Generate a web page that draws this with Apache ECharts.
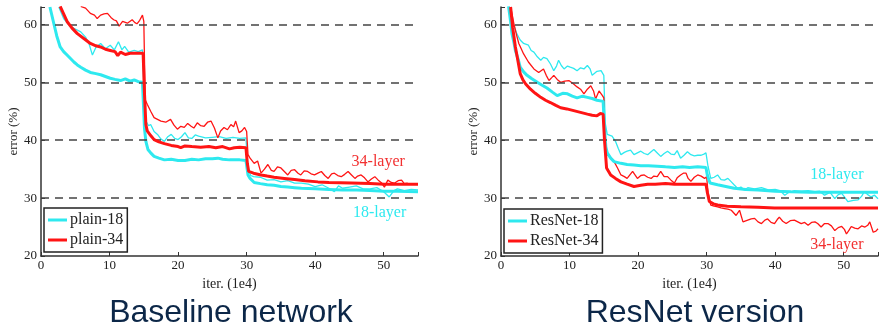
<!DOCTYPE html>
<html><head><meta charset="utf-8">
<script src="https://cdn.jsdelivr.net/npm/echarts@6/dist/echarts.min.js"></script>
<style>html,body{margin:0;padding:0;background:#fff}#c{width:884px;height:330px}</style>
</head><body><div id="c"></div>
<script>
// ---- data ----
const yTicks = [20, 30, 40, 50, 60];
const xTicks = [0, 10, 20, 30, 40, 50];
const gridLevels = [30, 40, 50, 60];
const panelTitles = ['Baseline network', 'ResNet version'];
const legendNames = [['plain-18', 'plain-34'], ['ResNet-18', 'ResNet-34']];
const layerLabels = ['18-layer', '34-layer'];

const plain18Val = [[1.3,63],[1.8,60.5],[2.3,58],[2.8,56.1],[3.3,55.3],[3.8,54.7],[4.3,54.1],[4.8,53.5],[5.3,53],[5.8,52.6],[6.5,52.1],[7.2,51.7],[8,51.5],[8.7,51.3],[9.4,51],[10.1,50.7],[10.8,50.5],[11.6,50.3],[12.3,50.6],[13,50.2],[13.6,50.4],[14.2,50.1],[14.8,50],[15.1,42],[15.3,39.8],[15.6,38.4],[16,37.8],[16.5,37.2],[17.2,36.9],[18,36.6],[19,36.7],[20,36.5],[21,36.5],[22,36.7],[23,36.6],[24,36.8],[25,36.8],[25.8,36.9],[26.5,36.7],[27.5,36.6],[28.2,36.6],[29,36.6],[29.9,36.5],[30.2,34],[30.5,33.4],[31.1,32.7],[32,32.5],[33,32.3],[34,32.2],[35,32],[36,31.9],[37,31.8],[38,31.7],[40,31.6],[42,31.5],[44,31.4],[46,31.4],[48,31.3],[50,31.2],[52,31.2],[55,31.1]];
const plain18Train = [[2.6,63],[3.3,61],[4.3,59.6],[5,59.2],[5.8,58.7],[6.5,57.8],[7,56.7],[7.5,54.7],[8,56],[8.7,56.7],[9.4,55.8],[10.1,56.4],[10.7,55.6],[11.3,57],[11.8,55.6],[12.2,56.2],[12.8,55.2],[13.6,55.5],[14.2,55.3],[14.8,55.6],[15.1,46],[15.3,43.3],[15.7,42.5],[16,42.7],[16.5,41.5],[17,41],[17.5,40.2],[18,39.8],[18.5,40.6],[19,41],[19.5,40.3],[20,40.1],[20.5,40.6],[21,41.3],[21.5,40.4],[22,40.3],[22.5,40.9],[23,40.7],[24,40.4],[25,40.5],[26,40.6],[27,40.3],[28,40.5],[29,40.3],[29.9,40.4],[30.2,35],[30.6,33.9],[31,33.7],[32,33.6],[33,33.1],[34,33.2],[35,32.8],[36,33],[37,32.6],[38,32.6],[39,32.4],[40,32],[41,32.3],[42,31.7],[42.8,31.1],[43.4,32.1],[44,31.7],[45,31.9],[46,32.1],[47,31.6],[48,31.6],[49,31.8],[50,31.1],[50.8,30.2],[51.5,31.3],[52,31.6],[53,31.3],[54,31.5],[55,31.4]];
const plain34Val = [[2.8,63.1],[3.3,61.8],[3.8,60.5],[4.5,59.4],[5.3,58.4],[6.2,57.6],[7.2,56.7],[8,56.3],[8.7,56.1],[9.4,55.7],[10.1,55.5],[10.8,55.3],[11.2,54.6],[11.6,55.2],[12.3,54.8],[13,55],[13.6,55],[14.3,55],[14.9,55],[15.1,48],[15.3,42.7],[15.5,41.6],[16,40.8],[16.5,40.1],[17.2,39.7],[18,39.4],[19,39.1],[20,38.9],[20.4,38.7],[21,39],[22,38.9],[23.3,38.8],[24.5,38.9],[25.5,38.7],[26.5,38.9],[27.5,38.5],[28.2,38.7],[29,38.8],[29.9,38.7],[30.1,36],[30.3,34.6],[31,34.3],[32.1,34],[33,33.8],[34,33.6],[35.5,33.4],[37,33.2],[38.5,33],[40.4,32.8],[42,32.7],[45.3,32.6],[48,32.5],[50.1,32.4],[52,32.4],[55,32.4]];
const plain34Train = [[5.8,63.1],[6.5,62.8],[7.2,61.9],[7.8,61.6],[8.2,61],[8.7,61.6],[9.2,61.8],[9.7,61.9],[10.2,61.2],[10.6,60.8],[11,60.6],[11.4,59.7],[11.9,60.5],[12.6,60.2],[13.3,60.8],[13.7,60.3],[14,60.1],[14.4,60.7],[14.8,61.6],[15,60.5],[15.2,47],[15.5,46.2],[16,45],[16.5,43.9],[17,43.6],[17.5,43.3],[18.2,43.1],[18.9,43.6],[19.4,42.6],[19.9,41.9],[20.4,42.4],[20.9,42.2],[21.4,42.9],[21.9,42.4],[22.3,42.1],[22.8,43],[23.3,42.5],[23.8,42.4],[24.3,43.1],[24.8,43.3],[25.3,42.1],[25.8,40.4],[26.2,41.6],[26.7,42.2],[27.2,41.8],[27.7,42.7],[28.1,42.3],[28.4,43.3],[28.9,41.3],[29.3,41.6],[29.7,42.2],[30,41.5],[30.2,37.5],[30.5,36.9],[31.1,36],[31.6,36.4],[32.1,34.3],[32.6,35],[33.1,35.8],[33.6,34.8],[34,34.6],[34.5,35.4],[35,35.2],[35.5,34.6],[36,34],[36.5,34.8],[37,34.9],[37.5,34.3],[37.9,34],[38.4,34.7],[38.9,34.6],[39.4,34.2],[39.9,34],[40.4,34.3],[40.9,34.6],[41.4,33.9],[41.9,33.4],[42.4,34.2],[42.8,34.3],[43.3,33.9],[43.8,33.7],[44.3,34.1],[44.8,34.6],[45.3,34],[45.8,33.4],[46.2,33.8],[46.7,34],[47.2,33.5],[47.7,32.8],[48.2,33.3],[48.7,33.7],[49.2,33.1],[49.7,32.6],[50.1,31.9],[50.6,33.1],[51.1,32.7],[51.6,32.6],[52.1,33],[52.6,33.1],[53,32.5],[53.5,32.6]];

const resnet18Val = [[1.1,63.1],[1.4,60.5],[1.6,58.4],[1.9,56.8],[2.1,55.5],[2.5,54],[2.8,52.6],[3.3,51.8],[3.8,51.2],[4.5,50.6],[5.3,50],[6,49.5],[6.7,49],[7.5,48.3],[8.2,47.7],[9,48.1],[9.7,48],[10.4,47.6],[11.1,47.3],[11.9,47.6],[12.6,47.4],[13.3,47.2],[14,46.9],[14.9,46.7],[15.1,42],[15.3,38.8],[15.5,37.8],[16,36.9],[16.5,36.3],[17.5,36],[18.4,35.8],[19.4,35.7],[20.4,35.6],[21.5,35.6],[22.8,35.5],[24,35.4],[25.3,35.3],[26.5,35.4],[27.5,35.3],[28.7,35.4],[29.9,35.3],[30.1,34],[30.5,32.6],[31.6,32.3],[32.8,32],[34,31.7],[35.7,31.5],[37.5,31.4],[40,31.2],[42.3,31.1],[45,31],[47.2,31],[50,31],[52.5,31],[55,31]];
const resnet18Train = [[1.1,63],[1.7,60.5],[2.3,58.4],[2.8,57.3],[3.3,56.7],[4,56.4],[4.4,55.5],[4.8,55.2],[5.3,54.4],[5.8,53.8],[6.2,54.3],[6.7,54.1],[7.2,53.2],[7.7,52],[8.1,52.8],[8.4,53.8],[8.8,52.9],[9.2,52.3],[9.7,52.8],[10.1,52.6],[10.6,52.4],[11.1,52],[11.6,52.5],[12.1,52.3],[12.6,52.9],[13,52.3],[13.3,51.2],[13.7,51.6],[14,51.9],[14.6,52],[15,51.2],[15.2,43],[15.5,41],[16.2,40.7],[16.7,39.8],[17.1,38.6],[17.5,37.5],[18,37.9],[18.4,38.1],[18.9,38.3],[19.4,37.5],[19.9,37.8],[20.4,38.1],[20.9,37.7],[21.4,37.5],[21.9,38],[22.3,38.4],[22.8,37.8],[23.3,37.2],[23.8,37.7],[24.3,38.1],[24.8,37.6],[25.3,37.5],[25.7,38.2],[26.2,36.9],[26.7,37.4],[27.2,38],[27.7,37.5],[28.2,37.3],[28.7,37.4],[29.2,37.4],[29.6,37.6],[29.9,37.8],[30.2,35.5],[30.6,33.4],[31.1,33.6],[31.6,34],[32.1,33.2],[32.6,33.1],[33.1,33.4],[33.6,32.8],[34,32.3],[34.5,31.7],[35,31.9],[35.5,31.4],[36,31.8],[37,31.6],[38,31.8],[39,31.4],[40,31.5],[40.7,31.3],[41.4,30.5],[42,31],[42.8,31.3],[43.8,31.2],[44.8,31.3],[45.8,31.1],[46.5,31.2],[47.2,30.5],[48,31],[48.7,29.9],[49.2,30.6],[49.7,30.8],[50.1,30.2],[50.6,29.4],[51.4,29.6],[52.1,29.7],[52.6,30.3],[53,31.1],[53.5,30.6],[54,30.2],[54.5,30.5],[55,29.9]];
const resnet34Val = [[1.4,63],[1.7,59.5],[2.1,56.1],[2.5,53.5],[2.8,51.5],[3.2,50.4],[3.6,49.7],[4.3,48.8],[5,48.1],[5.8,47.4],[6.5,46.9],[7.2,46.5],[8,46],[8.7,45.6],[9.6,45.4],[10.6,45.1],[11.6,44.8],[12.6,44.5],[13.3,44.3],[14,44.2],[14.5,44.6],[14.9,44.5],[15.1,40],[15.4,35.2],[16,34],[16.7,33.4],[17.5,32.8],[18.4,32.4],[19.4,32],[20.4,32.2],[21.4,32.4],[22.5,32.4],[24,32.5],[25.3,32.4],[26.5,32.4],[27.7,32.4],[28.8,32.4],[29.9,32.4],[30.1,31],[30.4,29.4],[31,29],[31.6,28.8],[33,28.6],[35,28.5],[37.5,28.4],[39.9,28.3],[42.5,28.3],[45,28.3],[47.5,28.3],[50,28.3],[52.5,28.3],[55,28.3]];
const resnet34Train = [[1.4,63],[1.9,60],[2.3,58],[2.6,56.7],[3.3,54.9],[4,53.5],[4.8,52.3],[5.5,51.7],[6.2,52.3],[6.6,51.2],[7,50.3],[7.4,50.8],[7.7,51.2],[8.2,50.5],[8.7,50],[9.3,50.2],[9.9,50.3],[10.5,49.8],[11.1,49.2],[11.6,48.8],[12.1,48],[12.6,48.8],[13.1,49.4],[13.5,48.5],[13.8,47.1],[14.3,48.5],[14.8,47.7],[15,47.3],[15.2,40],[15.5,37.5],[16,37],[16.5,36.3],[17,35.2],[17.5,34],[18,33.7],[18.4,33.4],[19.2,34.6],[19.9,33.4],[20.4,33.9],[20.9,34],[21.4,33.6],[21.9,33.4],[22.3,33.8],[22.8,33.7],[23.3,34.6],[23.8,33.7],[24.3,33.7],[24.8,33.1],[25.3,32.6],[25.7,33.5],[26.2,34],[26.6,34.3],[27,34.3],[27.3,33.4],[27.7,32.9],[28.2,33.6],[28.7,34],[29.2,33.8],[29.7,33.4],[30,33.7],[30.2,31],[30.6,28.8],[31.1,28.6],[31.6,28.5],[32.1,28.3],[32.6,28.2],[33.1,28.1],[33.6,27.9],[34.3,27],[34.8,27.9],[35.3,25.9],[36,26.2],[36.5,26.4],[37,26.5],[37.5,25.9],[38,25.6],[38.5,26.2],[38.9,26.4],[39.4,25.8],[39.9,25.6],[40.3,26.3],[40.6,26.7],[41.1,26],[41.6,25.6],[42.2,26.1],[42.8,26.2],[43.3,25.9],[43.8,25.6],[44.3,25.8],[44.8,25.3],[45.3,25.8],[45.8,25.9],[46.2,25.6],[46.7,25],[47.2,25.6],[47.7,25.6],[48.2,25.2],[48.7,24.4],[49.2,24.9],[49.7,25.1],[50.1,24.6],[50.4,23.8],[50.8,24.5],[51.1,25.1],[51.6,24.8],[52.1,24.7],[52.6,25.2],[53.1,25],[53.5,25.3],[53.8,25.9],[54.3,24.1],[54.7,24.3],[55,24.7]];

// annotation anchor points (data coords) for the "N-layer" labels
const labelAnchors = [
  { '18-layer': [49.4, 27.4], '34-layer': [49.2, 36.3] },
  { '18-layer': [49.0, 34.0], '34-layer': [49.0, 22.0] }
];

// ---- chart ----
const CYAN = '#2ee9ef', RED = '#ff1414';
const SERIF = 'Liberation Serif';
const chart = echarts.init(document.getElementById('c'), null, { renderer: 'canvas' });

const grids = [
  { left: 41, top: 7, width: 377, bottom: 74 },
  { left: 501, top: 7, width: 377, bottom: 74 }
];
const panels = [
  { val18: plain18Val, tr18: plain18Train, val34: plain34Val, tr34: plain34Train },
  { val18: resnet18Val, tr18: resnet18Train, val34: resnet34Val, tr34: resnet34Train }
];
const titleCenters = [226, 690];
const legendPos = [{ left: 44, top: 208 }, { left: 504, top: 209 }];

function mkLabelPoint(text, coord, color) {
  return {
    coord: coord, symbol: 'circle', symbolSize: 1,
    itemStyle: { color: 'rgba(0,0,0,0)' },
    label: { show: true, position: 'inside', formatter: text, color: color, fontSize: 16, fontFamily: SERIF }
  };
}

const series = [];
panels.forEach((p, i) => {
  const base = { type: 'line', xAxisIndex: i, yAxisIndex: i, showSymbol: false, symbol: 'none', animation: false, silent: true, clip: true };
  series.push(Object.assign({}, base, {
    name: legendNames[i][0] + ' train', data: p.tr18, color: CYAN, z: 2,
    lineStyle: { width: 1.3, color: CYAN },
    markLine: {
      silent: true, symbol: 'none', animation: false,
      label: { show: false },
      lineStyle: { type: [8, 6], color: '#444', width: 1.5 },
      data: gridLevels.map(v => ({ yAxis: v }))
    }
  }));
  series.push(Object.assign({}, base, {
    name: legendNames[i][1] + ' train', data: p.tr34, color: RED, z: 3,
    lineStyle: { width: 1.3, color: RED }
  }));
  series.push(Object.assign({}, base, {
    name: legendNames[i][0], data: p.val18, color: CYAN, z: 4,
    lineStyle: { width: 3, color: CYAN },
    markPoint: { animation: false, silent: true, data: [mkLabelPoint(layerLabels[0], labelAnchors[i]['18-layer'], CYAN)] }
  }));
  series.push(Object.assign({}, base, {
    name: legendNames[i][1], data: p.val34, color: RED, z: 5,
    lineStyle: { width: 3, color: RED },
    markPoint: { animation: false, silent: true, data: [mkLabelPoint(layerLabels[1], labelAnchors[i]['34-layer'], '#f23030')] }
  }));
});

const axisLabelStyle = { fontFamily: SERIF, fontSize: 13, color: '#222' };

const option = {
  backgroundColor: '#fff',
  animation: false,
  grid: grids,
  title: panelTitles.map((t, i) => ({
    text: t, left: titleCenters[i], top: 292, textAlign: 'center',
    textStyle: { fontFamily: 'Liberation Sans', fontSize: 32, fontWeight: 'normal', color: '#0c2748' }
  })),
  legend: legendNames.map((names, i) => ({
    data: names, orient: 'vertical', left: legendPos[i].left, top: legendPos[i].top,
    icon: 'rect', itemWidth: 19, itemHeight: 3, itemGap: 4,
    padding: [4, 4, 4, 4], borderColor: '#222', borderWidth: 1.5, backgroundColor: '#fff',
    selectedMode: false,
    textStyle: { fontFamily: SERIF, fontSize: 16, color: '#222', padding: [0, 0, 0, -2] }
  })),
  xAxis: grids.map((g, i) => ({
    type: 'value', gridIndex: i, min: 0, max: 55, interval: 10,
    name: 'iter. (1e4)', nameLocation: 'middle', nameGap: 16,
    nameTextStyle: { fontFamily: SERIF, fontSize: 14, color: '#222' },
    axisLine: { show: true, lineStyle: { color: '#333', width: 1.5 } },
    axisTick: { show: true, inside: true, length: 4, lineStyle: { color: '#333' } },
    axisLabel: Object.assign({ margin: 3, formatter: v => xTicks.includes(v) ? String(v) : '' }, axisLabelStyle),
    splitLine: { show: false }
  })),
  yAxis: grids.map((g, i) => ({
    type: 'value', gridIndex: i, min: 20, max: 63, interval: 10,
    name: 'error (%)', nameLocation: 'middle', nameGap: 21,
    nameTextStyle: { fontFamily: SERIF, fontSize: 13, color: '#222' },
    axisLine: { show: true, lineStyle: { color: '#333', width: 1.5 } },
    axisTick: { show: true, inside: true, length: 4, lineStyle: { color: '#333' } },
    axisLabel: Object.assign({ margin: 4, formatter: v => yTicks.includes(v) ? String(v) : '' }, axisLabelStyle),
    splitLine: { show: false }
  })),
  series: series
};
chart.setOption(option);
</script>
</body></html>
